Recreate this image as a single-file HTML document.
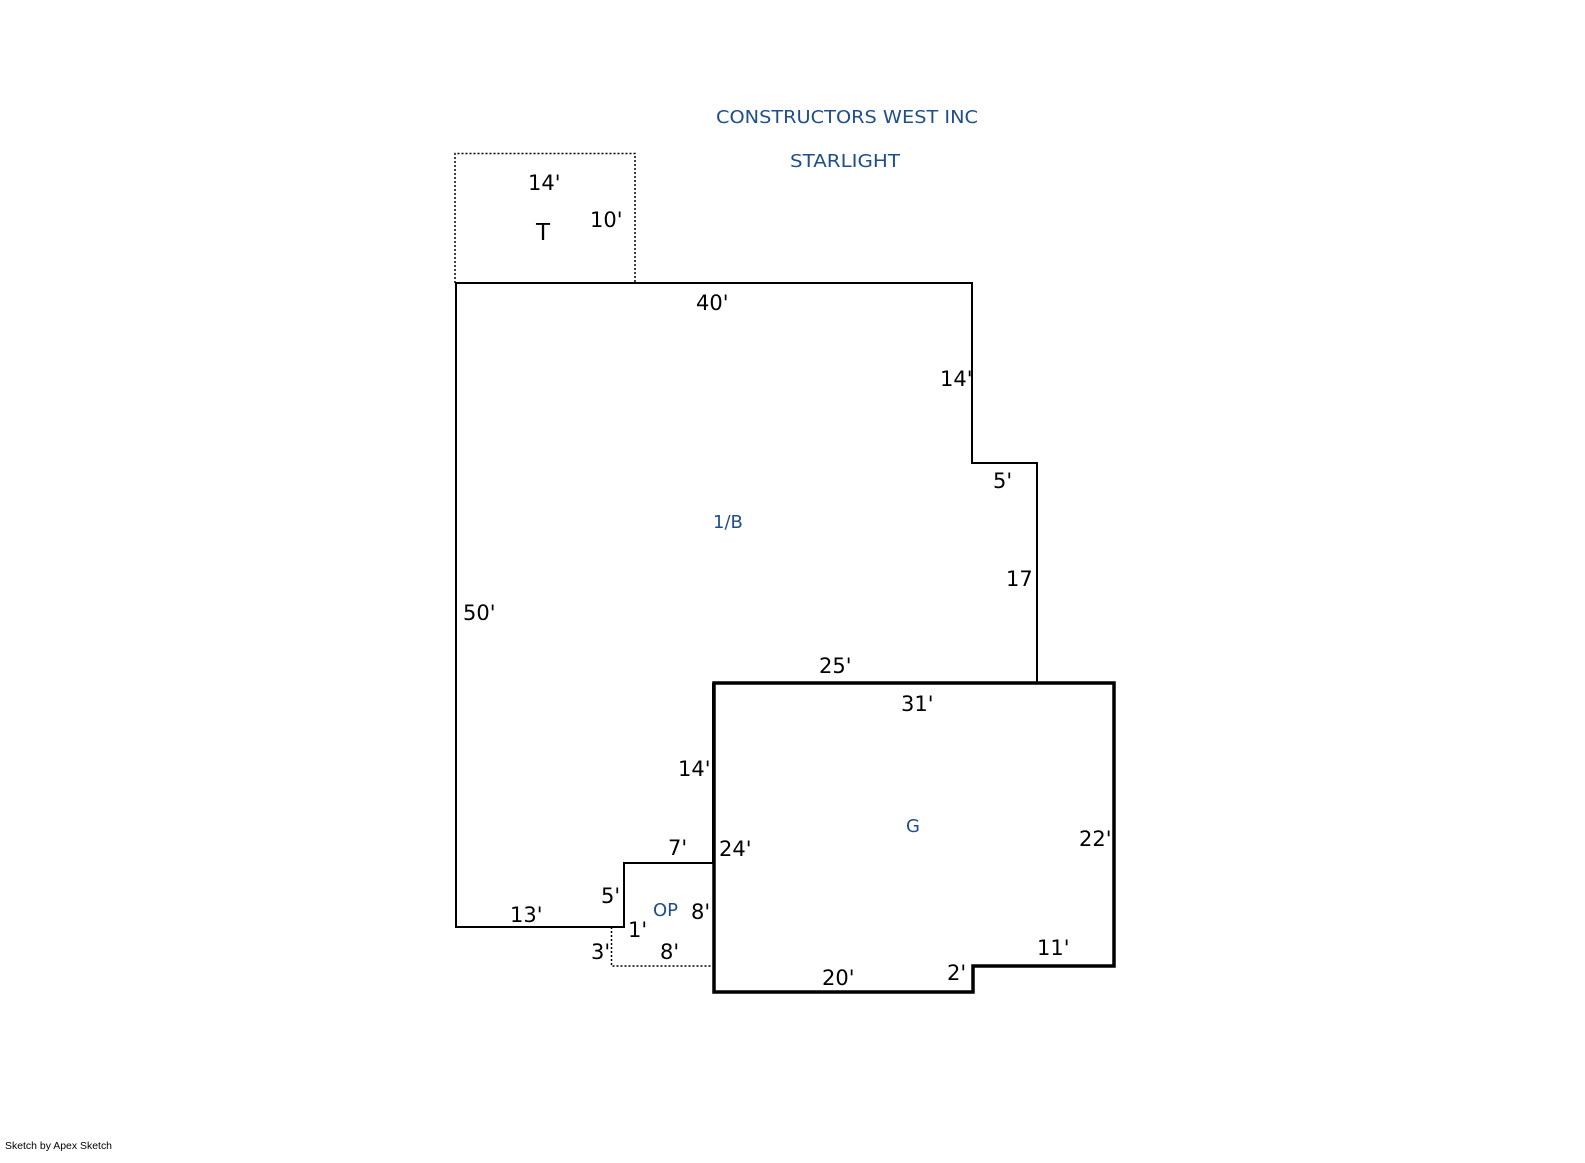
<!DOCTYPE html>
<html><head><meta charset="utf-8"><style>
html,body{margin:0;padding:0;background:#fff;}
svg{display:block;}
text{font-family:"DejaVu Sans","Liberation Sans",sans-serif;}
.d{font-size:21px;fill:#000;}
.b{font-size:18px;fill:#1f4e8c;}
</style></head><body>
<svg width="1585" height="1163" viewBox="0 0 1585 1163" xmlns="http://www.w3.org/2000/svg">
<text class="b" x="716" y="123" textLength="262" lengthAdjust="spacingAndGlyphs">CONSTRUCTORS WEST INC</text>
<text class="b" x="790" y="167" textLength="110" lengthAdjust="spacingAndGlyphs">STARLIGHT</text>
<polyline points="455,283 455,153.5 635,153.5 635,283" fill="none" stroke="#000" stroke-width="1.5" stroke-dasharray="2,2"/>
<polyline points="611.5,927 611.5,966 713,966" fill="none" stroke="#000" stroke-width="1.5" stroke-dasharray="2,2"/>
<polyline points="713,683 713,863 624,863 624,927 456,927 456,283 972,283 972,463 1037,463 1037,683" fill="none" stroke="#000" stroke-width="2"/>
<polygon points="714,683 1114,683 1114,966 973,966 973,992 714,992" fill="none" stroke="#000" stroke-width="3.5"/>
<g class="d">
<text x="528" y="190">14'</text>
<text x="536" y="240" style="font-size:23px">T</text>
<text x="590" y="227">10'</text>
<text x="696" y="310">40'</text>
<text x="940" y="386">14'</text>
<text x="993" y="488">5'</text>
<text x="1006" y="586">17</text>
<text x="463" y="620">50'</text>
<text x="819" y="673">25'</text>
<text x="901" y="711">31'</text>
<text x="678" y="776">14'</text>
<text x="1079" y="846">22'</text>
<text x="668" y="855">7'</text>
<text x="719" y="856">24'</text>
<text x="601" y="903">5'</text>
<text x="691" y="919">8'</text>
<text x="510" y="922">13'</text>
<text x="628" y="937">1'</text>
<text x="591" y="959">3'</text>
<text x="660" y="959">8'</text>
<text x="1037" y="955">11'</text>
<text x="947" y="980">2'</text>
<text x="822" y="985">20'</text>
</g>
<text class="b" x="713" y="528">1/B</text>
<text class="b" x="906" y="832">G</text>
<text class="b" x="653" y="916">OP</text>
<text x="5" y="1149" style="font-size:10px;fill:#000;font-family:'Liberation Sans',sans-serif" textLength="107" lengthAdjust="spacingAndGlyphs">Sketch by Apex Sketch</text>
</svg>
</body></html>
